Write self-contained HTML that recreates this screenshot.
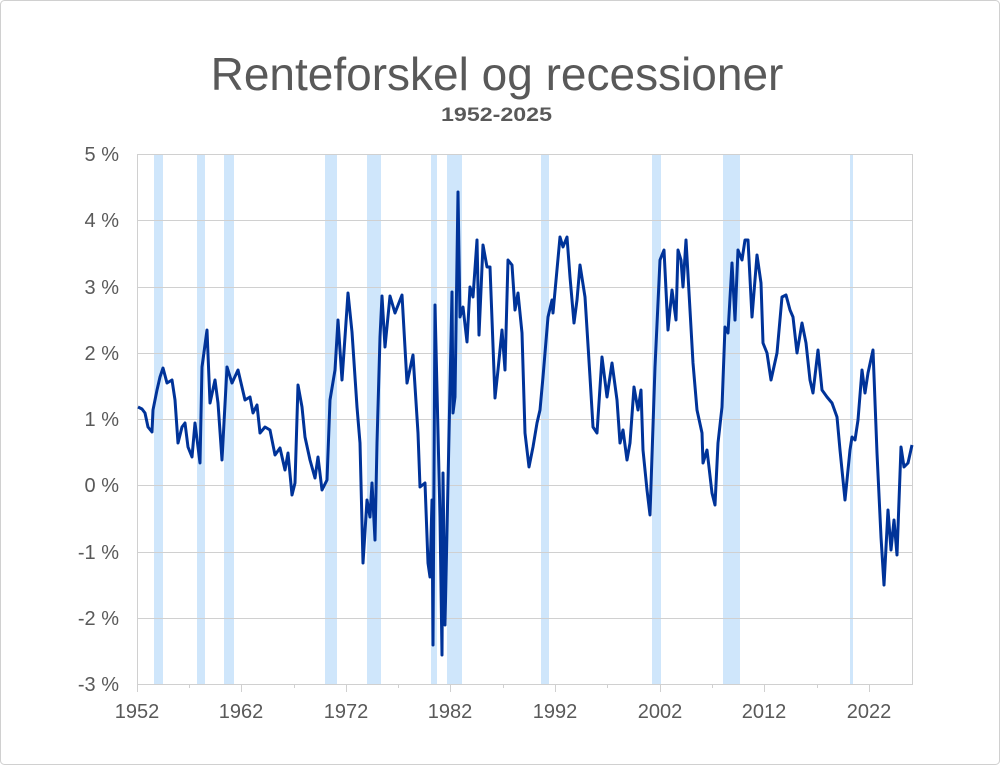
<!DOCTYPE html>
<html><head><meta charset="utf-8"><style>
body{margin:0;background:#fff}
svg{display:block}
text{font-family:"Liberation Sans",sans-serif;fill:#595959}
</style></head><body>
<svg width="1000" height="765" viewBox="0 0 1000 765">
<rect x="0.5" y="0.5" width="999" height="764" rx="4" fill="#fff" stroke="#d0d0d0"/>
<text x="497" y="90" font-size="46" text-anchor="middle">Renteforskel og recessioner</text>
<text x="441" y="121" font-size="19.5" font-weight="bold" textLength="111" lengthAdjust="spacingAndGlyphs">1952-2025</text>
<g fill="#cfe6fb">
<rect x="154" y="154" width="9" height="530"/>
<rect x="197" y="154" width="8" height="530"/>
<rect x="224" y="154" width="10" height="530"/>
<rect x="325" y="154" width="12" height="530"/>
<rect x="367" y="154" width="14" height="530"/>
<rect x="431" y="154" width="6" height="530"/>
<rect x="447" y="154" width="15" height="530"/>
<rect x="541" y="154" width="8" height="530"/>
<rect x="652" y="154" width="9" height="530"/>
<rect x="723" y="154" width="17" height="530"/>
<rect x="850" y="154" width="3" height="530"/>
</g>
<g stroke="#d0d0d0" stroke-width="1">
<line x1="137" x2="913" y1="220.5" y2="220.5"/>
<line x1="137" x2="913" y1="287.5" y2="287.5"/>
<line x1="137" x2="913" y1="353.5" y2="353.5"/>
<line x1="137" x2="913" y1="419.5" y2="419.5"/>
<line x1="137" x2="913" y1="485.5" y2="485.5"/>
<line x1="137" x2="913" y1="552.5" y2="552.5"/>
<line x1="137" x2="913" y1="618.5" y2="618.5"/>
<rect x="137.5" y="154.5" width="775" height="530" fill="none"/>
<line x1="137.5" x2="137.5" y1="684" y2="692"/>
<line x1="189.5" x2="189.5" y1="684" y2="688"/>
<line x1="241.5" x2="241.5" y1="684" y2="692"/>
<line x1="294.5" x2="294.5" y1="684" y2="688"/>
<line x1="346.5" x2="346.5" y1="684" y2="692"/>
<line x1="398.5" x2="398.5" y1="684" y2="688"/>
<line x1="450.5" x2="450.5" y1="684" y2="692"/>
<line x1="503.5" x2="503.5" y1="684" y2="688"/>
<line x1="555.5" x2="555.5" y1="684" y2="692"/>
<line x1="607.5" x2="607.5" y1="684" y2="688"/>
<line x1="660.5" x2="660.5" y1="684" y2="692"/>
<line x1="712.5" x2="712.5" y1="684" y2="688"/>
<line x1="764.5" x2="764.5" y1="684" y2="692"/>
<line x1="817.5" x2="817.5" y1="684" y2="688"/>
<line x1="869.5" x2="869.5" y1="684" y2="692"/>
</g>
<g font-size="20" text-anchor="end">
<text x="119" y="161">5 %</text>
<text x="119" y="227">4 %</text>
<text x="119" y="294">3 %</text>
<text x="119" y="360">2 %</text>
<text x="119" y="426">1 %</text>
<text x="119" y="492">0 %</text>
<text x="119" y="559">-1 %</text>
<text x="119" y="625">-2 %</text>
<text x="119" y="691">-3 %</text>
</g>
<g font-size="20" text-anchor="middle">
<text x="137" y="718">1952</text><text x="241" y="718">1962</text><text x="346" y="718">1972</text>
<text x="450" y="718">1982</text><text x="555" y="718">1992</text><text x="660" y="718">2002</text>
<text x="764" y="718">2012</text><text x="869" y="718">2022</text>
</g>
<polyline fill="none" stroke="#003399" stroke-width="3" stroke-linejoin="round" points="
138,407 142,409 145,413 148,427 152,432 153,410 157,390 160,377 163,368 167,383 172,380 175,400 178,443 182,427 185,423 188,447 192,457 195,423 200,463 202,367 207,330 210,403 215,380 218,403 222,460 227,367 232,383 238,370 245,400 250,397 253,413 257,405 260,433 265,427 270,430 275,455 280,448 285,470 288,453 292,495 295,483 298,385 302,407 305,437 310,460 315,478 318,457 322,490 327,480 330,400 335,370 338,320 342,380 345,337 348,293 352,332 357,407 360,443 363,563 367,500 370,517 372,483 375,540 377,443 380,337 382,296 385,347 390,296 395,313 402,295 407,383 413,355 418,433 420,487 425,483 428,563 430,577 432,500 433,645 435,305 440,517 442,655 443,473 445,625 448,483 452,292 453,413 455,397 458,192 460,317 463,307 467,342 470,287 473,297 477,240 479,335 483,245 487,267 490,267 495,398 498,370 502,330 505,370 508,260 512,265 515,310 518,293 522,333 525,433 529,467 533,447 537,423 540,410 543,377 548,317 552,300 553,313 560,237 563,247 567,237 570,277 574,323 577,300 580,265 585,297 590,377 593,427 597,433 602,357 607,397 612,363 617,400 620,443 623,430 627,460 630,443 634,387 638,410 641,390 643,450 647,490 650,515 655,367 660,260 664,250 668,330 672,290 676,320 678,250 681,260 683,287 686,240 690,310 693,363 697,410 702,433 703,463 707,450 712,493 715,505 718,443 722,407 725,327 728,333 732,263 735,320 738,250 742,260 745,240 748,240 752,317 757,255 761,283 763,343 767,353 771,380 777,353 782,297 786,295 790,310 793,317 797,353 802,323 806,343 810,380 813,393 818,350 822,390 827,397 832,403 837,417 840,450 845,500 850,450 852,437 855,440 858,420 862,370 865,393 868,373 873,350 877,453 881,537 884,585 888,510 891,550 894,520 897,555 901,447 904,467 908,463 912,445"/>
</svg>
</body></html>
